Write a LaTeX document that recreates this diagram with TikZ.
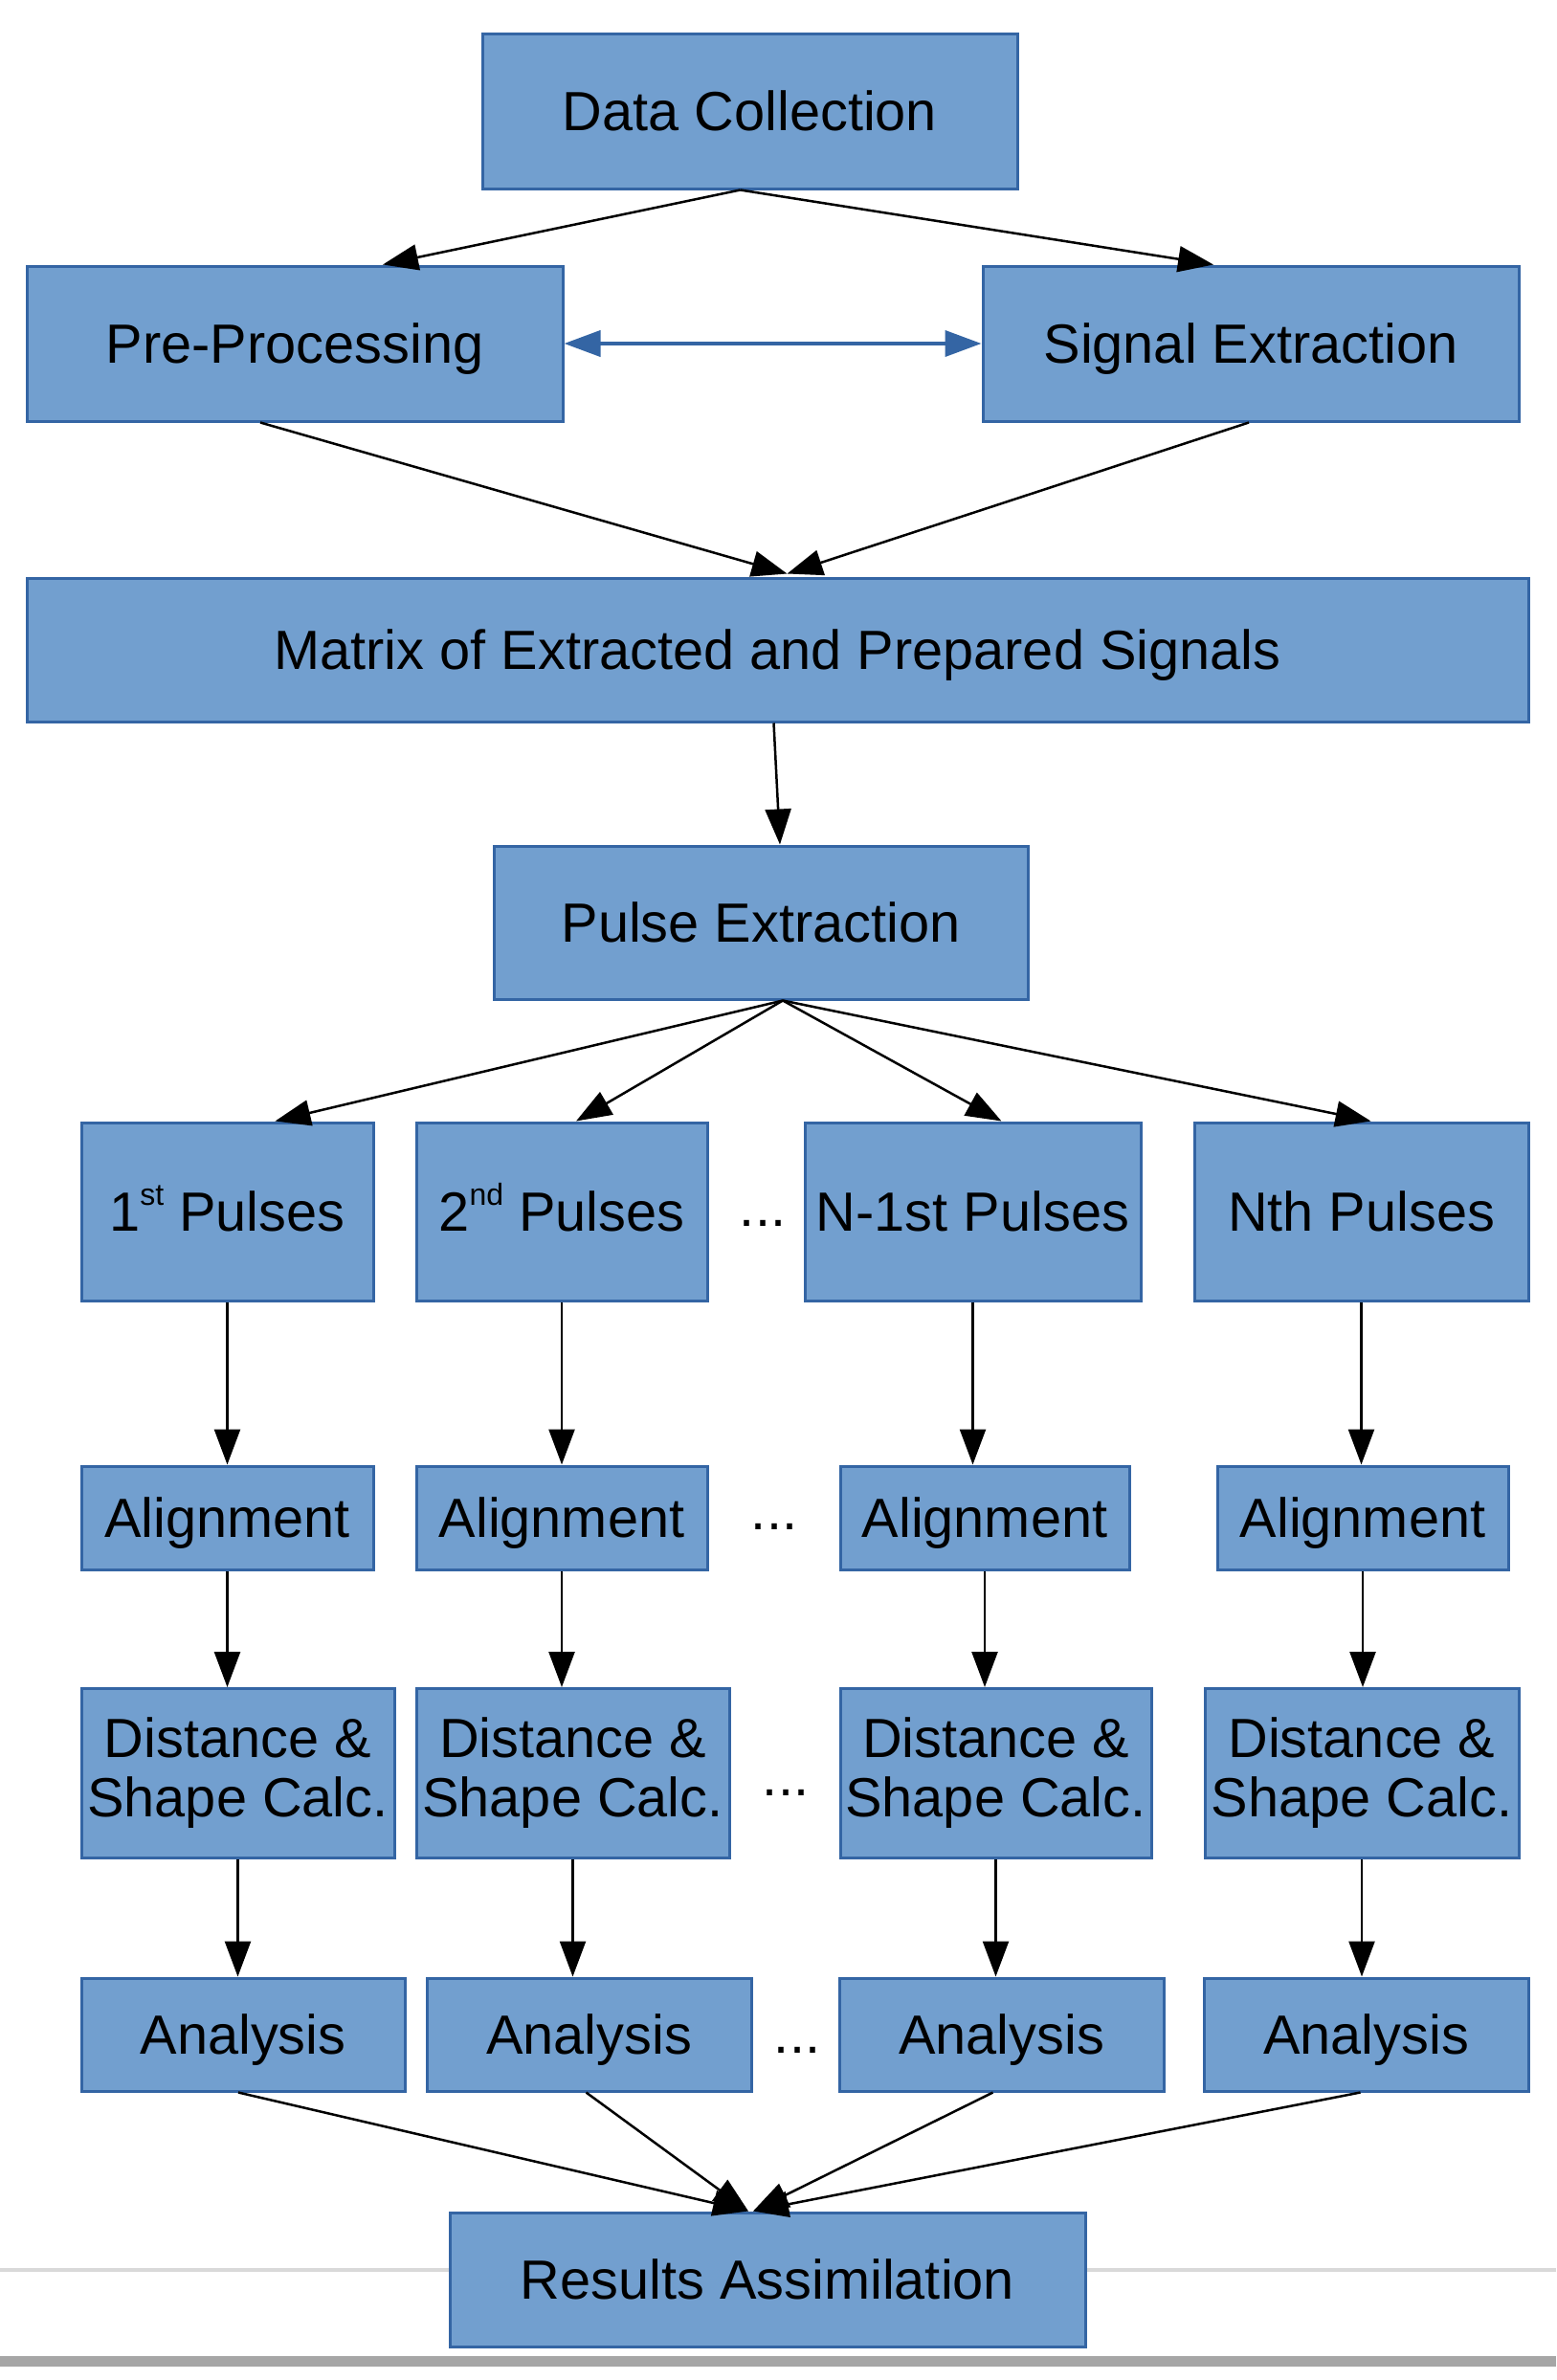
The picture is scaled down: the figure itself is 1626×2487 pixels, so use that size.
\documentclass[tikz,border=0pt]{standalone}
\usepackage{fontspec}
\setmainfont{Liberation Sans}
\usepackage{tikz}
\usetikzlibrary{arrows.meta}

\definecolor{boxfill}{HTML}{729FCF}
\definecolor{boxline}{HTML}{3465A4}
\newcommand{\boxfont}{\fontsize{57.7}{62}\selectfont}
\newcommand{\ordsup}[1]{\raisebox{27pt}{\fontsize{32}{32}\selectfont #1}}

\begin{document}
\begin{tikzpicture}[x=1pt,y=-1pt,
    blk/.style={draw=boxline, fill=boxfill, line width=3pt, inner sep=0pt, align=center, font=\boxfont},
    lbl/.style={blk, text height=52pt, text depth=12pt},
    flow/.style={line width=2.5pt, -{Triangle[length=37pt,width=27pt]}},
    gap/.style={font=\boxfont, anchor=base, inner sep=0pt}]
    \useasboundingbox (0,0) rectangle (1626,2487);

    % Page lines
    \draw[line width=4pt, gray!30] (0,2372) -- (1626,2372);
    \fill[gray!70] (0,2462) rectangle (1626,2473);

    % Top part
    \node[lbl, minimum width=559pt, minimum height=162pt] (dc) at (783.5,116) {Data Collection};
    \node[lbl, minimum width=560pt, minimum height=162pt] (pp) at (308,359) {Pre-Processing};
    \node[lbl, minimum width=560pt, minimum height=162pt] (se) at (1307,359) {Signal Extraction};
    \node[lbl, minimum width=1569pt, minimum height=150pt] (mat) at (812.5,679) {Matrix of Extracted and Prepared Signals};
    \node[lbl, minimum width=558pt, minimum height=160pt] (pe) at (795,964) {Pulse Extraction};

    % Pulses
    \node[lbl, minimum width=305pt, minimum height=186pt] (p1) at (237.5,1266) {1\ordsup{st} Pulses};
    \node[lbl, minimum width=304pt, minimum height=186pt] (p2) at (587,1266) {2\ordsup{nd} Pulses};
    \node[lbl, minimum width=351pt, minimum height=186pt] (p3) at (1016.5,1266) {N-1st Pulses};
    \node[lbl, minimum width=349pt, minimum height=186pt] (p4) at (1422.5,1266) {Nth Pulses};
    \node[gap] (g1) at (797,1281) {...};

    % Alignment
    \node[lbl, minimum width=305pt, minimum height=108pt] (a1) at (237.5,1586) {Alignment};
    \node[lbl, minimum width=304pt, minimum height=108pt] (a2) at (587,1586) {Alignment};
    \node[lbl, minimum width=302pt, minimum height=108pt] (a3) at (1029,1586) {Alignment};
    \node[lbl, minimum width=304pt, minimum height=108pt] (a4) at (1424,1586) {Alignment};
    \node[gap] (g2) at (809,1598) {...};

    % Distance
    \node[blk, minimum width=327pt, minimum height=177pt] (d1) at (248.5,1853) {Distance \&\\Shape Calc.};
    \node[blk, minimum width=327pt, minimum height=177pt] (d2) at (598.5,1853) {Distance \&\\Shape Calc.};
    \node[blk, minimum width=325pt, minimum height=177pt] (d3) at (1040.5,1853) {Distance \&\\Shape Calc.};
    \node[blk, minimum width=328pt, minimum height=177pt] (d4) at (1423,1853) {Distance \&\\Shape Calc.};
    \node[gap] (g3) at (821,1876) {...};

    % Analysis
    \node[lbl, minimum width=338pt, minimum height=118pt] (n1) at (254,2126) {Analysis};
    \node[lbl, minimum width=339pt, minimum height=118pt] (n2) at (615.5,2126) {Analysis};
    \node[lbl, minimum width=339pt, minimum height=118pt] (n3) at (1046.5,2126) {Analysis};
    \node[lbl, minimum width=339pt, minimum height=118pt] (n4) at (1427.5,2126) {Analysis};
    \node[gap] (g4) at (833,2145) {...};

    \node[lbl, minimum width=664pt, minimum height=140pt] (res) at (802,2382) {Results Assimilation};

    % Arrows
    \draw[flow] ([xshift=-10pt]dc.south) -- ([xshift=92pt]pp.north);
    \draw[flow] ([xshift=-10pt]dc.south) -- ([xshift=-39pt]se.north);
    \draw[line width=4pt, boxline, {Triangle[length=38pt,width=27pt]}-{Triangle[length=38pt,width=27pt]}] (pp.east) -- (se.west);
    \draw[flow] ([xshift=-36pt]pp.south) -- ([xshift=10pt,yshift=3pt]mat.north);
    \draw[flow] ([xshift=-2pt]se.south) -- ([xshift=10pt,yshift=3pt]mat.north);
    \draw[flow] ([xshift=-4pt]mat.south) -- ([xshift=20pt]pe.north);

    \draw[flow] ([xshift=23pt]pe.south) -- ([xshift=50pt]p1.north);
    \draw[flow] ([xshift=23pt]pe.south) -- ([xshift=15pt]p2.north);
    \draw[flow] ([xshift=23pt]pe.south) -- ([xshift=30pt]p3.north);
    \draw[flow] ([xshift=23pt]pe.south) -- ([xshift=10pt]p4.north);

    \foreach \i in {1,...,4} {
        \draw[flow] (p\i.south) -- (p\i.south |- a\i.north);
        \draw[flow] (a\i.south) -- (a\i.south |- d\i.north);
        \draw[flow] (d\i.south) -- (d\i.south |- n\i.north);
    }

    \draw[flow] ([xshift=-5pt]n1.south) -- ([xshift=-20pt]res.north);
    \draw[flow] ([xshift=-3pt]n2.south) -- ([xshift=-20pt]res.north);
    \draw[flow] ([xshift=-9pt]n3.south) -- ([xshift=-15pt]res.north);
    \draw[flow] ([xshift=-6pt]n4.south) -- ([xshift=-15pt]res.north);

\end{tikzpicture}
\end{document}
